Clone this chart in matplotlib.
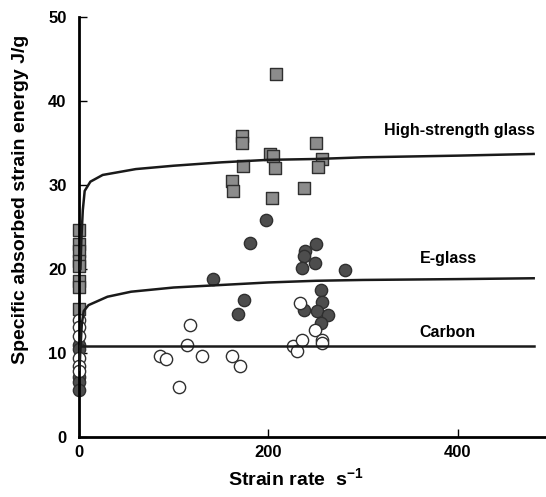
import matplotlib
matplotlib.use('Agg')
import matplotlib.pyplot as plt

plt.rcParams['font.family'] = ['Liberation Sans', 'DejaVu Sans']
plt.rcParams['font.weight'] = 'bold'
plt.rcParams['mathtext.fontset'] = 'custom'
plt.rcParams['mathtext.bf'] = 'Liberation Sans:bold'

# high-strength glass (squares)
hs_x = [0, 0, 0, 0, 0, 0, 0, 0,
        208, 172, 172, 202, 205, 250, 173, 207, 161, 163, 204, 238, 256, 252]
hs_y = [24.7, 23.0, 22.1, 21.0, 20.4, 18.6, 17.9, 15.2,
        43.2, 35.8, 35.0, 33.7, 33.4, 35.0, 32.3, 32.0, 30.5, 29.3, 28.4, 29.6, 33.1, 32.2]

# E-glass (dark circles)
eg_x = [0, 0, 0, 0, 0,
        197, 180, 141, 239, 237, 235, 250, 249, 281, 255, 256, 251, 263, 255,
        174, 168, 237]
eg_y = [11.0, 10.5, 7.2, 6.6, 5.6,
        25.8, 23.1, 18.8, 22.2, 21.5, 20.1, 23.0, 20.7, 19.9, 17.5, 16.1, 15.0, 14.5, 13.6,
        16.3, 14.7, 15.1]

# carbon (open circles)
cb_x = [0, 0, 0, 0, 0, 0,
        117, 114, 85, 92, 130, 106, 162, 170, 226, 230, 233, 235, 249, 256, 257]
cb_y = [13.9, 13.1, 12.0, 9.4, 8.4, 7.8,
        13.3, 11.0, 9.6, 9.3, 9.6, 5.9, 9.6, 8.5, 10.8, 10.2, 15.9, 11.5, 12.8, 11.5, 11.2]

# fitted curves
hs_cx = [1.5, 2.5, 4, 6, 12, 25, 60, 100, 150, 200, 250, 300, 350, 400, 480]
hs_cy = [20.0, 23.5, 27.0, 29.3, 30.4, 31.2, 31.9, 32.3, 32.7, 33.0, 33.1, 33.3, 33.4, 33.5, 33.7]
eg_cx = [0.5, 1.5, 3, 5, 10, 30, 55, 100, 150, 200, 250, 300, 400, 480]
eg_cy = [8.0, 10.5, 13.5, 15.0, 15.7, 16.7, 17.3, 17.8, 18.1, 18.4, 18.6, 18.7, 18.8, 18.9]
cb_cx = [0, 480]
cb_cy = [10.8, 10.8]

fig = plt.figure(figsize=(5.46, 4.97), dpi=100)
ax = fig.add_axes([0.1447, 0.1207, 0.8553, 0.845])

edge = '#2f2f2f'
ax.scatter(hs_x, hs_y, marker='s', s=72, facecolor='#8c8c8c', edgecolor=edge, linewidth=1.0, zorder=2, clip_on=False)
ax.scatter(eg_x, eg_y, marker='o', s=78, facecolor='#4d4d4d', edgecolor=edge, linewidth=1.0, zorder=2, clip_on=False)
ax.scatter(cb_x, cb_y, marker='o', s=78, facecolor='white', edgecolor=edge, linewidth=1.0, zorder=2, clip_on=False)

ax.plot(hs_cx, hs_cy, color='#1a1a1a', lw=1.8, zorder=3)
ax.plot(eg_cx, eg_cy, color='#1a1a1a', lw=1.8, zorder=3)
ax.plot(cb_cx, cb_cy, color='#1a1a1a', lw=1.8, zorder=3)

ax.text(402, 36.5, 'High-strength glass', ha='center', va='center', fontsize=11.5, fontweight='bold')
ax.text(390, 21.3, 'E-glass', ha='center', va='center', fontsize=11.5, fontweight='bold')
ax.text(389, 12.5, 'Carbon', ha='center', va='center', fontsize=11.5, fontweight='bold')

ax.set_xlim(0, 493)
ax.set_ylim(0, 50)
ax.set_xticks([0, 200, 400])
ax.set_yticks([0, 10, 20, 30, 40, 50])
ax.tick_params(axis='both', direction='in', length=6, width=1, labelsize=12)
ax.tick_params(axis='y', pad=9)
ax.tick_params(axis='x', pad=6)
for lbl in ax.get_xticklabels() + ax.get_yticklabels():
    lbl.set_fontweight('bold')

for s in ['top', 'right']:
    ax.spines[s].set_visible(False)
for s in ['left', 'bottom']:
    ax.spines[s].set_linewidth(2)

ax.set_xlabel('Strain rate  s$^{\\mathbf{-1}}$', fontsize=14, fontweight='bold')
ax.xaxis.set_label_coords(0.465, -0.072)
ax.set_ylabel('Specific absorbed strain energy J/g', fontsize=14, fontweight='bold')
ax.yaxis.set_label_coords(-0.108, 0.565)

fig.savefig('out.png', dpi=100)
